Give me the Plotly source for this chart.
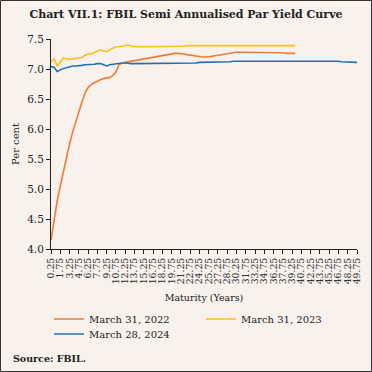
import plotly.graph_objects as go

maturities = [f"{0.25 + 0.5 * i:.2f}" for i in range(100)]

yield_2022 = [4.15, 4.50, 4.80, 5.05, 5.30, 5.52, 5.75, 5.95, 6.10, 6.28,
              6.45, 6.60, 6.69, 6.74, 6.77, 6.80, 6.82, 6.84, 6.85, 6.86,
              6.89, 6.95, 7.07, 7.10, 7.11, 7.12, 7.13, 7.14, 7.15, 7.16,
              7.17, 7.18, 7.18, 7.19, 7.20, 7.21, 7.22, 7.23, 7.24, 7.25,
              7.26, 7.26, 7.26, 7.25, 7.24, 7.23, 7.22, 7.21, 7.20, 7.20,
              7.20, 7.20, 7.21, 7.22, 7.23, 7.24, 7.25, 7.26, 7.27, 7.27,
              7.28, 7.28, 7.28, 7.28, 7.28, 7.28, 7.28, 7.28, 7.28, 7.28,
              7.28, 7.28, 7.27, 7.27, 7.27, 7.27, 7.26, 7.26, 7.26, 7.26]

yield_2023 = [7.12, 7.17, 7.05, 7.12, 7.18, 7.17, 7.16, 7.17, 7.18, 7.18,
              7.19, 7.23, 7.25, 7.25, 7.27, 7.30, 7.32, 7.30, 7.29, 7.32,
              7.35, 7.37, 7.37, 7.38, 7.39, 7.40, 7.38, 7.37, 7.37, 7.37,
              7.37, 7.37, 7.37, 7.37, 7.37, 7.37, 7.37, 7.37, 7.37, 7.37,
              7.37, 7.38, 7.38, 7.38, 7.39, 7.39, 7.40, 7.40, 7.40, 7.40,
              7.40, 7.40, 7.40, 7.40, 7.40, 7.40, 7.40, 7.40, 7.40, 7.39,
              7.39, 7.39, 7.39, 7.39, 7.39, 7.39, 7.39, 7.39, 7.39, 7.39,
              7.39, 7.39, 7.39, 7.39, 7.39, 7.39, 7.39, 7.39, 7.39, 7.39]

yield_2024 = [7.04, 7.03, 6.96, 6.99, 7.01, 7.02, 7.04, 7.05, 7.05, 7.05,
              7.06, 7.07, 7.07, 7.08, 7.08, 7.09, 7.09, 7.07, 7.05, 7.07,
              7.08, 7.09, 7.10, 7.10, 7.10, 7.09, 7.09, 7.09, 7.09, 7.09,
              7.09, 7.09, 7.09, 7.09, 7.09, 7.09, 7.09, 7.09, 7.09, 7.09,
              7.10, 7.10, 7.10, 7.10, 7.10, 7.10, 7.10, 7.10, 7.11, 7.11,
              7.11, 7.11, 7.11, 7.12, 7.12, 7.12, 7.12, 7.12, 7.12, 7.13,
              7.13, 7.13, 7.13, 7.13, 7.14, 7.14, 7.14, 7.14, 7.14, 7.14,
              7.14, 7.14, 7.14, 7.14, 7.14, 7.14, 7.14, 7.14, 7.14, 7.14,
              7.14, 7.14, 7.14, 7.14, 7.14, 7.14, 7.14, 7.14, 7.14, 7.13,
              7.13, 7.13, 7.13, 7.13, 7.12, 7.12, 7.11, 7.11, 7.11, 7.11]

series_names = ["March 31, 2022", "March 31, 2023", "March 28, 2024"]
series_colors = ["#EE7D35", "#FFBE1A", "#2370B8"]
tick_labels = maturities[::3]

BG = "#F8F1EC"
FONT = "DejaVu Serif"

L, R, T, B = 51, 15, 39, 123
W = 372 - L - R
H = 372 - T - B

# legend entry positions (pixels from top-left of figure)
legend_pos = [(49, 319), (201, 319), (49, 334)]
legend_ids = ["legend", "legend2", "legend3"]

fig = go.Figure()
for name, vals, col, lg in zip(series_names, [yield_2022, yield_2023, yield_2024],
                               series_colors, legend_ids):
    fig.add_trace(go.Scatter(x=maturities[:len(vals)], y=vals, mode="lines", name=name,
                             line=dict(color=col, width=1.6), legend=lg))

leg_common = dict(orientation="h", xanchor="left", yanchor="middle",
                  font=dict(family=FONT, size=10, color="#222"),
                  bgcolor="rgba(0,0,0,0)", itemwidth=30, borderwidth=0)
legend_layout = {}
for lg, (px, py) in zip(legend_ids, legend_pos):
    legend_layout[lg] = dict(x=(px - L) / W, y=(249 - py) / H, **leg_common)

fig.update_layout(
    width=372, height=372,
    margin=dict(l=L, r=R, t=T, b=B, pad=0, autoexpand=False),
    paper_bgcolor=BG, plot_bgcolor=BG,
    font=dict(family=FONT, color="#222", size=10),
    title=dict(text="<b>Chart VII.1: FBIL Semi Annualised Par Yield Curve</b>",
               x=0.5, xanchor="center", xref="container",
               y=1 - 14 / 372, yanchor="middle", yref="container",
               font=dict(family=FONT, size=11, color="#222")),
    showlegend=True,
    xaxis=dict(type="category", categoryorder="array", categoryarray=maturities,
               range=[0, 99], tickmode="array", tickvals=tick_labels, ticktext=tick_labels,
               tickangle=-90, tickfont=dict(family=FONT, size=9.3, color="#333"),
               ticks="outside", ticklen=4, tickcolor="#222", automargin=False,
               showline=True, linecolor="#222", linewidth=1, showgrid=False, zeroline=False,
               title=dict(text="Maturity (Years)", font=dict(family=FONT, size=9.5, color="#222"),
                          standoff=11)),
    yaxis=dict(range=[4.0, 7.5], dtick=0.5, tickformat=".1f", automargin=False,
               ticks="outside", ticklen=4, tickcolor="#222",
               tickfont=dict(family=FONT, size=10.5, color="#222"),
               showline=True, linecolor="#222", linewidth=1, showgrid=False, zeroline=False,
               title=dict(text="Per cent", font=dict(family=FONT, size=10, color="#222"),
                          standoff=5)),
    **legend_layout,
)

# outer frame
fig.add_shape(type="rect", xref="paper", yref="paper",
              x0=(0.5 - L) / W, x1=(371.5 - L) / W,
              y0=(249 - 371.5) / H, y1=(249 - 0.5) / H,
              line=dict(color="#333", width=1), fillcolor="rgba(0,0,0,0)", layer="below")

fig.add_annotation(text="<b>Source: FBIL.</b>", xref="paper", yref="paper",
                   x=(11 - L) / W, xanchor="left", y=(249 - 358) / H, yanchor="middle",
                   showarrow=False, font=dict(family=FONT, size=9.5, color="#222"))

fig.write_html("out.html", config={"displayModeBar": False},
               post_script="document.body.style.margin='0';")
